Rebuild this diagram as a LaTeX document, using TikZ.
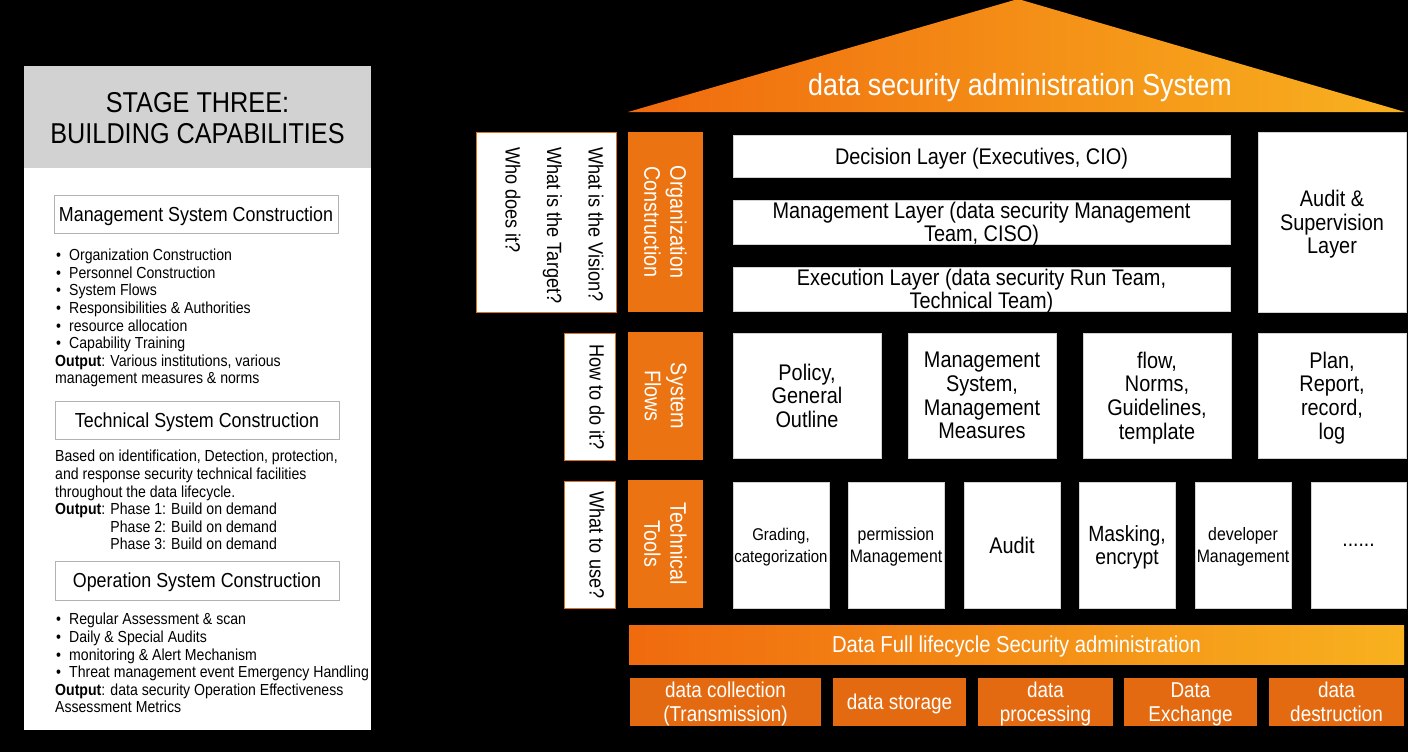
\documentclass[tikz,border=0pt]{standalone}
\usepackage{fontspec}
\setmainfont{Liberation Sans}[FakeStretch=0.88]
\definecolor{orng}{HTML}{EC7311}
\definecolor{orngB}{HTML}{E36A10}
\definecolor{roofL}{HTML}{F06A0E}
\definecolor{roofR}{HTML}{F8B11F}
\definecolor{hdr}{HTML}{D2D2D2}
\definecolor{qline}{HTML}{D9711E}
\newcommand\fs[2]{\fontsize{#1}{#2}\selectfont}
\newcommand\bx[6]{\node[#6,minimum width={(#4)-(#2)},minimum height={(#5)-(#3)}] (#1) at ({((#2)+(#4))/2},{((#3)+(#5))/2})}
\newcommand\bl{\makebox[14pt][l]{\hspace{1pt}\textbullet}}
\tikzset{
 wbox/.style={fill=white, draw=gray!35, line width=0.5pt, inner sep=0pt, align=center, text=black, text depth=0pt, font=\fs{22.6}{23.6}},
 obox/.style={fill=orng, inner sep=0pt},
 qbox/.style={fill=white, draw=qline, line width=0.7pt, inner sep=0pt},
 lbox/.style={fill=orngB, inner sep=0pt, text=white, align=center, text depth=0pt, font=\fs{21.5}{24}},
 sbox/.style={fill=white, draw=gray!60, line width=0.8pt, inner sep=0pt, text depth=0pt, font=\fs{20.3}{24}},
 vtxt/.style={rotate=-90, inner sep=0pt, align=center},
 otxt/.style={vtxt, text=white, font=\fs{22.5}{26}},
 qtxt/.style={vtxt, text=black, align=left, font=\fs{20.6}{41.5}},
 blk/.style={anchor=north west, inner sep=0pt, align=left, font=\fs{16}{17.6}},
}
\begin{document}
\begin{tikzpicture}[x=1pt,y=-1pt]
\useasboundingbox (0,0) rectangle (1408,752);
\fill[black] (0,0) rectangle (1408,752);

% ---------- left panel ----------
\bx{panel}{24}{66}{371}{730}{fill=white, inner sep=0pt}{};
\bx{head}{24}{66}{371}{168}{fill=hdr, inner sep=0pt}{};
\node[font=\fs{28.7}{31}, align=center, inner sep=0pt] (title) at (197.5,118.5) {STAGE THREE:\\BUILDING CAPABILITIES};

\bx{msc}{54}{195}{338}{233}{sbox}{Management System Construction};
\node[blk] (mlist) at (55,249) {\bl Organization Construction\\\bl Personnel Construction\\\bl System Flows\\\bl Responsibilities \& Authorities\\\bl resource allocation\\\bl Capability Training\\\textbf{Output}: Various institutions, various\\management measures \& norms};

\bx{tsc}{55}{401}{339}{439}{sbox}{Technical System Construction};
\node[blk] (tlist) at (55,450) {Based on identification, Detection, protection,\\and response security technical facilities\\throughout the data lifecycle.\\\textbf{Output}: Phase 1: Build on demand\\\phantom{\textbf{Output}: }Phase 2: Build on demand\\\phantom{\textbf{Output}: }Phase 3: Build on demand};

\bx{osc}{55}{561}{339}{600}{sbox}{Operation System Construction};
\node[blk] (olist) at (55,613) {\bl Regular Assessment \& scan\\\bl Daily \& Special Audits\\\bl monitoring \& Alert Mechanism\\\bl Threat management event Emergency Handling\\\textbf{Output}: data security Operation Effectiveness\\Assessment Metrics};

% ---------- roof ----------
\coordinate (rl) at (628,112);
\coordinate (ra) at (1018,-1);
\coordinate (rr) at (1405,112);
\shade[left color=roofL, right color=roofR] (rl) -- (ra) -- (rr) -- cycle;
\node[text=white, font=\fs{30.5}{34}, inner sep=0pt, text depth=0pt] (rooft) at (1020,84) {data security administration System};

% ---------- question boxes ----------
\bx{q1}{476}{132}{616}{312}{qbox}{};
\node[qtxt, anchor=west] (q1t) at (554.5,147) {What is the Vision?\\What is the Target?\\Who does it?};
\bx{q2}{564}{333}{615}{460}{qbox}{};
\node[qtxt] (q2t) at (597,397) {How to do it?};
\bx{q3}{564}{481}{615}{608}{qbox}{};
\node[qtxt] (q3t) at (597,545) {What to use?};

% ---------- orange row labels ----------
\bx{o1}{628}{132}{703}{312}{obox}{};
\node[otxt] (o1t) at (o1.center) {Organization\\Construction};
\bx{o2}{628}{332}{703}{460}{obox}{};
\node[otxt] (o2t) at (o2.center) {System\\Flows};
\bx{o3}{628}{480}{703}{608}{obox}{};
\node[otxt] (o3t) at (o3.center) {Technical\\Tools};

% ---------- row 1 ----------
\bx{dec}{733}{135}{1230}{177}{wbox}{Decision Layer (Executives, CIO)};
\bx{man}{733}{200}{1230}{244}{wbox}{Management Layer (data security Management\\Team, CISO)};
\bx{exe}{733}{267}{1230}{311}{wbox}{Execution Layer (data security Run Team,\\Technical Team)};
\bx{aud}{1258}{132}{1406}{312}{wbox}{Audit \&\\Supervision\\Layer};

% ---------- row 2 ----------
\bx{pol}{733}{333}{881}{458}{wbox}{Policy,\\General\\Outline};
\bx{mss}{908}{333}{1056}{458}{wbox}{Management\\System,\\Management\\Measures};
\bx{flw}{1083}{333}{1231}{458}{wbox}{flow,\\Norms,\\Guidelines,\\template};
\bx{pln}{1258}{333}{1406}{458}{wbox}{Plan,\\Report,\\record,\\log};

% ---------- row 3 ----------
\bx{grd}{733}{482}{829}{608}{wbox, font=\fs{17}{22}}{Grading,\\categorization};
\bx{prm}{848}{482}{944}{608}{wbox, font=\fs{18}{22}}{permission\\Management};
\bx{adt}{964}{482}{1060}{608}{wbox}{Audit};
\bx{msk}{1079}{482}{1175}{608}{wbox, font=\fs{22}{23}}{Masking,\\encrypt};
\bx{dev}{1195}{482}{1291}{608}{wbox, font=\fs{18}{22}}{developer\\Management};
\bx{etc}{1311}{482}{1406}{608}{wbox, font=\fs{22}{23}}{......};

% ---------- lifecycle ----------
\bx{life}{629}{625}{1404}{664}{left color=roofL, right color=roofR, inner sep=0pt, text=white, text depth=0pt, font=\fs{23}{26}}{Data Full lifecycle Security administration};
\bx{b1}{630}{678}{821}{726}{lbox}{data collection\\(Transmission)};
\bx{b2}{833}{678}{966}{726}{lbox}{data storage};
\bx{b3}{978}{678}{1113}{726}{lbox}{data\\processing};
\bx{b4}{1124}{678}{1257}{726}{lbox}{Data\\Exchange};
\bx{b5}{1269}{678}{1404}{726}{lbox}{data\\destruction};
\end{tikzpicture}
\end{document}
